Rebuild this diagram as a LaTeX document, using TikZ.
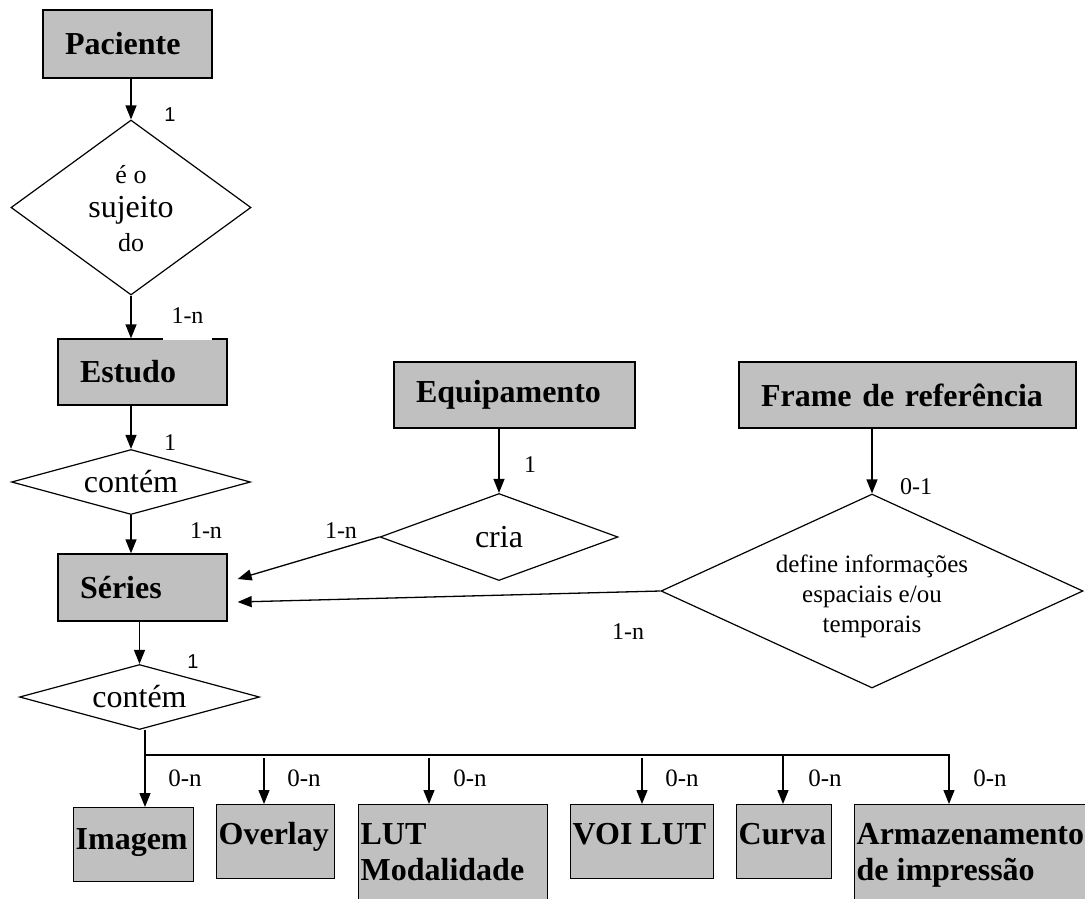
\documentclass[tikz,border=0pt]{standalone}
\usepackage{fontspec}
\setmainfont{Liberation Serif}
\newfontfamily\lsans{Liberation Sans}
\usetikzlibrary{shapes.geometric,arrows.meta,calc}
\definecolor{entgray}{HTML}{C0C0C0}
\newcommand\entbox[4]{\parbox[c][#2][t]{#1}{\raggedright\leftskip=2pt\rule{0pt}{#3}#4}}
\tikzset{
  ent/.style={draw, line width=1.3pt, fill=entgray, font=\fontsize{32}{36}\selectfont\bfseries, align=left, inner xsep=22pt, inner ysep=0pt},
  leaf/.style={draw, line width=1.3pt, fill=entgray, font=\fontsize{32}{36}\selectfont\bfseries, inner sep=0pt, anchor=north west},
  rel/.style={draw, line width=1.2pt, fill=white, shape=diamond, inner sep=0pt, font=\fontsize{32}{36}\selectfont},
  arr/.style={line width=1.3pt, -{Triangle[length=14pt,width=11pt]}},
  lab/.style={font=\fontsize{24}{28}\selectfont, inner sep=0pt},
  zlab/.style={font=\fontsize{25}{28}\selectfont, inner sep=0pt},
  slab/.style={font=\lsans\fontsize{20}{24}\selectfont, inner sep=0pt}
}
\begin{document}
\begin{tikzpicture}[x=1pt,y=-1pt]
\useasboundingbox (0,0) rectangle (1085,898);
\clip (0,0) rectangle (1085,898);
% entities
\node[ent, text width=125pt, minimum height=68pt] (pac) at (127.5,44) {Paciente};
\node[ent, text width=125pt, minimum height=66pt] (est) at (142.5,372) {Estudo};
\node[ent, text width=125pt, minimum height=67pt] (ser) at (142.5,587.5) {Séries};
\node[ent, text width=197pt, minimum height=66pt] (equ) at (514.5,395) {Equipamento};
\node[ent, text width=293pt, minimum height=66pt] (fr) at (907.5,395) {Frame de referência};
% relationships
\node[rel, minimum width=240pt, minimum height=175pt, aspect=1.37] (d1) at (131,207.5)
  {\parbox[c][96pt][t]{100pt}{\centering\fontsize{26}{34}\selectfont\rule{0pt}{23.5pt}é o\\{\fontsize{32}{34}\selectfont sujeito}\\do}};
\node[rel, minimum width=239pt, minimum height=65pt, aspect=3.6] (d2) at (131,482) {contém};
\node[rel, minimum width=240pt, minimum height=65pt, aspect=3.6] (d3) at (139.5,697) {contém};
\node[rel, minimum width=238pt, minimum height=87pt, aspect=2.7] (cria) at (499,537) {cria};
\node[rel, minimum width=422pt, minimum height=194pt, aspect=2.18] (dfr) at (872,591)
  {\parbox[c][96pt][t]{200pt}{\centering\fontsize{25}{30}\selectfont\rule{0pt}{29pt}define informações\\espaciais e/ou\\temporais}};
% leaf entities
\node[leaf] (img) at (73,807) {\entbox{120pt}{74pt}{42pt}{Imagem}};
\node[leaf] (ov) at (216,804) {\entbox{118pt}{74pt}{40pt}{Overlay}};
\node[leaf] (lut) at (358,804) {\entbox{189pt}{120pt}{40pt}{LUT\\Modalidade}};
\node[leaf] (voi) at (570,804) {\entbox{143pt}{74pt}{40pt}{VOI LUT}};
\node[leaf] (cur) at (736,804) {\entbox{95pt}{74pt}{40pt}{Curva}};
\node[leaf] (arm) at (854,804) {\entbox{240pt}{120pt}{40pt}{Armazenamento\\de impressão}};
% connectors
\draw[arr] (d1.north |- pac.south) -- (d1.north);
\draw[arr] (d1.south) -- (d1.south |- est.north);
\draw[arr] (d2.north |- est.south) -- (d2.north);
\draw[arr] (d2.south) -- (d2.south |- ser.north);
\draw[arr] (d3.north |- ser.south) -- (d3.north);
\draw[arr] (cria.north |- equ.south) -- (cria.north);
\draw[arr] (dfr.north |- fr.south) -- (dfr.north);
\draw[arr] (cria.west) -- ([shift={(10,-8.5)}]ser.east);
\draw[arr] (dfr.west) -- ([shift={(10,14.5)}]ser.east);
\coordinate (bus) at (145,755);
\coordinate (busr) at (949,755);
\draw[arr] (d3.south -| bus) -- (bus) -- (busr) -- (busr |- arm.north);
\draw[arr] (bus) -- (bus |- img.north);
\coordinate (ovs) at (264,758);
\coordinate (luts) at (429,758);
\coordinate (vois) at (642,758);
\coordinate (curs) at (783,755);
\draw[arr] (ovs) -- (ovs |- ov.north);
\draw[arr] (luts) -- (luts |- lut.north);
\draw[arr] (vois) -- (vois |- voi.north);
\draw[arr] (curs) -- (curs |- cur.north);
% cardinality labels
\node[slab] (l1) at (170,115) {1};
\node[lab, fill=white, minimum width=49pt, minimum height=48pt] (l2) at (187.5,316) {1-n};
\node[lab] (l3) at (170,443) {1};
\node[lab] (l4) at (206,531) {1-n};
\node[lab] (l5) at (341,531) {1-n};
\node[lab] (l6) at (530,465) {1};
\node[lab] (l7) at (916,487) {0-1};
\node[lab] (l8) at (628,632) {1-n};
\node[slab] (l9) at (193,662) {1};
\node[zlab] (n1) at (185,778) {0-n};
\node[zlab] (n2) at (304,778) {0-n};
\node[zlab] (n3) at (470,778) {0-n};
\node[zlab] (n4) at (682,778) {0-n};
\node[zlab] (n5) at (825,778) {0-n};
\node[zlab] (n6) at (990,778) {0-n};
\end{tikzpicture}
\end{document}
